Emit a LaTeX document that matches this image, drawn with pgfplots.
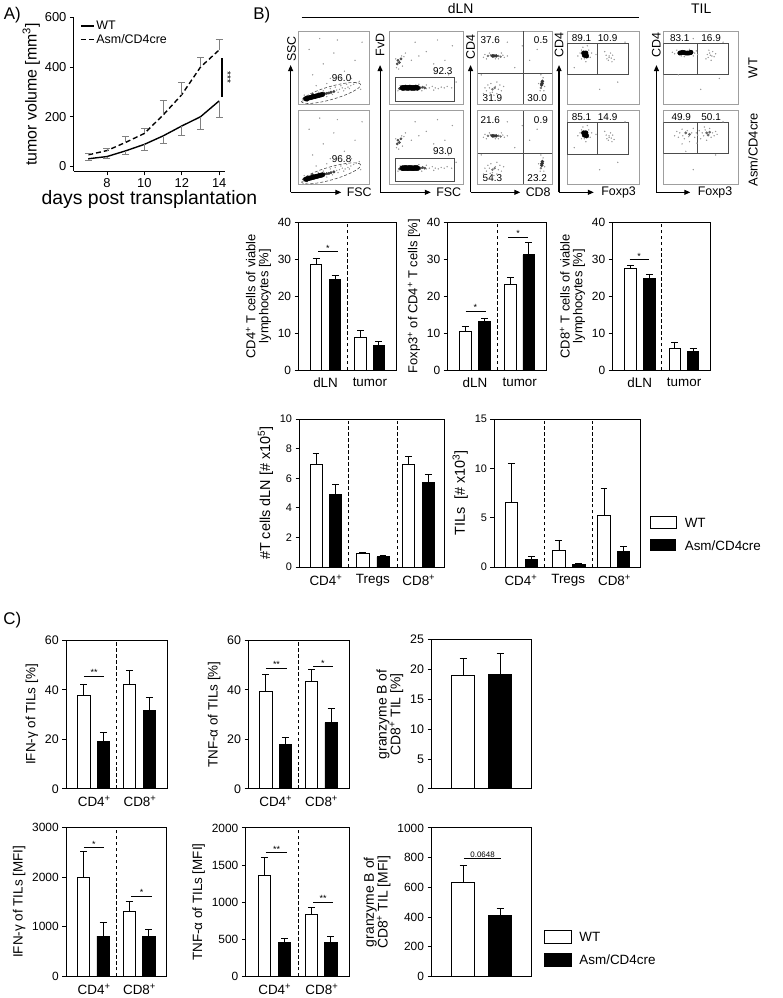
\documentclass[border=0pt]{standalone}
\usepackage{fontspec}
\setmainfont{Liberation Sans}
\usepackage{pgfplots}
\pgfplotsset{compat=1.18}
\usepackage{pgfplotstable}
\usetikzlibrary{arrows.meta}

\newcommand{\fs}[1]{\fontsize{#1}{#1}\selectfont}
\newcommand{\pl}{\textsuperscript{+}}

\tikzset{gate/.style={gray!60!black, line width=0.6pt},
  arr/.style={line width=1.1pt, -{Triangle[length=6pt,width=5pt]}}}

\pgfplotsset{
  every axis/.append style={/pgf/number format/assume math mode=true,
    /pgf/number format/1000 sep={}, scaled ticks=false},
  bars/.style={scale only axis, anchor=south west, clip=false, ymin=0, xmin=0, xmax=4,
    axis line style={line width=0.9pt}, ytick pos=left, tick align=outside,
    major tick length=4pt, ytick style={line width=0.9pt, black}, xtick style={draw=none},
    tick label style={font=\fs{12}}, xticklabel style={font=\fs{13.5}},
    ylabel style={font=\fs{13}, align=center}, cycle list={{black, mark=none, solid}}},
  wt/.style={ybar, bar shift=0pt, fill=white, draw=black, line width=0.9pt,
    error bars/y dir=plus, error bars/y explicit, error bars/error mark=|,
    error bars/error bar style={line width=0.9pt, black, solid},
    error bars/error mark options={line width=0.9pt, mark size=3.5pt, black, solid}},
  ko/.style={wt, fill=black},
  div/.style={line width=0.9pt, dash pattern=on 3.5pt off 2.5pt},
  sig/.style={line width=0.9pt},
  flow/.style={scale only axis, anchor=south west, xmin=0, xmax=100, ymin=0, ymax=100,
    xtick=\empty, ytick=\empty, axis line style={gray!75, line width=0.7pt}, clip=true},
  core/.style={only marks, mark=*, black},
  dots/.style={only marks, mark=*, mark size=0.45pt, gray!80},
}

% flow cytometry clusters, positions in % of the plot box
\pgfplotstableread{
x y
10 7
12 7.5
14 8
16 8.5
18 9
20 9.5
22 10
24 10.5
26 11
28 11.5
30 12
32 12.5
34 13
}\fAcore
\pgfplotstableread{
x y
37 14
40 14.5
43 15
46 16
50 17
12 5
20 13
}\fAmid
\pgfplotstableread{
x y
54 19
58 20
62 22
66 21
70 23
74 25
78 27
56 16
64 18
72 21
45 21
52 23
60 25
35 18
28 16
40 10
8 12
6 4
82 29
68 27
48 13
86 31
20 40
35 55
50 70
65 45
80 60
90 85
15 75
45 35
75 35
88 20
55 88
30 90
40 28
25 25
60 35
}\fAdots
\pgfplotstableread{
x y
18 22
20 22
22 22.5
24 22
26 22
28 22.5
30 22
32 22
34 22
36 22.5
38 22
}\fBcore
\pgfplotstableread{
x y
42 22
45 23
48 22
14 21
12 60
14 57
16 62
11 55
}\fBmid
\pgfplotstableread{
x y
50 21
54 22
58 24
62 22
66 21
70 23
74 22
78 24
50 26
60 19
44 18
40 27
15 25
12 18
10 50
20 65
18 52
22 70
30 60
40 66
50 72
60 55
75 60
85 80
35 85
65 88
80 40
90 30
9 62
17 66
13 48
84 22
}\fBdots
\pgfplotstableread{
x y
20 66
22 66
25 66
86 26
86.5 28.5
87 31
}\fCcore
\pgfplotstableread{
x y
14 66
18 67
22 66
28 66
31 65
20 20
23 22
85 22
}\fCmid
\pgfplotstableread{
x y
8 64
10 68
34 67
36 64
32 70
12 62
28 62
40 66
16 70
24 62
12 18
16 22
20 16
24 24
28 20
18 28
22 12
26 14
30 26
14 26
10 22
32 18
17 15
26 30
8 14
35 24
84 18
88 36
82 28
90 24
85 40
89 18
50 50
60 80
70 60
40 85
80 75
5 40
}\fCdots
\pgfplotstableread{
x y
23 70
27 66
26 70
24 67
}\fDcore
\pgfplotstableread{
x y
20 62
30 74
18 70
32 64
26 58
22 78
28 80
15 66
34 70
20 74
24 62
58 64
55 62
58 66
61 63
57 60
63 67
60 70
54 67
65 61
52 72
62 58
40 68
10 50
70 30
45 20
80 85
}\fDdots
\pgfplotstableread{
x y
22 70
24 70.5
26 71
28 70.5
30 70
32 70
34 70
36 70.5
37 71
}\fEcore
\pgfplotstableread{
x y
15 69
42 70
46 68
18 74
40 66
35 75
28 65
12 71
44 73
24 66
60 64
62 70
65 66
66 72
59 68
64 60
68 65
61 74
57 62
70 69
63 67
20 40
50 20
80 85
40 90
75 35
}\fEdots
\pgfplotstableread{
x y
58 70
62 71
60 67
30 70
35 68
}\fFmid
\pgfplotstableread{
x y
15 66
18 72
20 64
22 70
25 75
26 66
28 62
32 73
34 65
38 70
40 76
42 64
44 70
46 67
48 73
50 62
52 70
54 66
56 74
64 64
66 70
68 66
70 72
72 68
58 60
35 58
45 56
25 55
55 78
62 76
30 45
40 20
70 40
80 85
}\fFdots

\begin{document}
\begin{tikzpicture}
\path (0pt,0pt) rectangle (784pt,998pt);

% ---------- A ----------
\node[font=\fs{17}] at (9pt,983pt) {A)};
\begin{axis}[at={(71pt,826pt)}, anchor=south west, scale only axis, width=152pt, height=155pt,
  xmin=6.23, xmax=14.31, ymin=-20, ymax=600, axis lines*=left,
  axis line style={line width=0.9pt},
  xtick={8,10,12,14}, ytick={0,200,400,600}, tick align=outside, major tick length=4pt,
  tick style={line width=0.9pt, black}, tick label style={font=\fs{13}},
  xlabel={days post transplantation}, xlabel style={font=\fs{19.5}, yshift=4pt},
  ylabel={tumor volume [mm\textsuperscript{3}]}, ylabel style={font=\fs{16}, yshift=-2pt},
  legend style={at={(0.04,0.99)}, anchor=north west, draw=none, fill=none,
    font=\fs{12.5}, inner sep=0pt, row sep=-1pt},
  legend image code/.code={\draw[#1] (0pt,0pt) -- (13pt,0pt);},
  legend cell align=left, clip=false]
\addplot[black, line width=1.4pt, mark=none,
  error bars/y dir=minus, error bars/y explicit, error bars/error mark=|,
  error bars/error bar style={gray, line width=0.9pt, solid},
  error bars/error mark options={gray, line width=0.9pt, mark size=3.5pt, solid}]
  coordinates {(7,31) +- (0,7) (8,40) +- (0,7) (9,63) +- (0,16) (10,89) +- (0,25)
    (11,123) +- (0,32) (12,163) +- (0,40) (13,200) +- (0,51) (14,264) +- (0,68)};
\addplot[black, line width=1.4pt, mark=none, dash pattern=on 5pt off 3pt,
  error bars/y dir=plus, error bars/y explicit, error bars/error mark=|,
  error bars/error bar style={gray, line width=0.9pt, solid},
  error bars/error mark options={gray, line width=0.9pt, mark size=3.5pt, solid}]
  coordinates {(7,47) +- (0,6) (8,64) +- (0,9) (9,97) +- (0,23) (10,133) +- (0,20)
    (11,207) +- (0,57) (12,289) +- (0,48) (13,400) +- (0,40) (14,469) +- (0,44)};
\legend{WT, Asm/CD4cre}
\addplot[black, line width=1.1pt, mark=none, forget plot] coordinates {(14.15,280) (14.15,436)};
\node[font=\fs{10}, rotate=-90] at (axis cs:14.45,358) {***};
\end{axis}

% ---------- B : flow plots ----------
\node[font=\fs{17}] at (260pt,983pt) {B)};
\draw[line width=1pt] (300pt,981pt) -- (639pt,981pt);
\node[font=\fs{14}] at (460pt,990pt) {dLN};
\node[font=\fs{14}] at (702pt,990pt) {TIL};
\node[font=\fs{13}, rotate=90] at (754pt,930pt) {WT};
\node[font=\fs{13}, rotate=90] at (754pt,848pt) {Asm/CD4cre};

\draw[arr] (289pt,805pt) -- (289pt,933pt);
\draw[arr] (289pt,805pt) -- (340pt,805pt);
\node[font=\fs{12.5}, rotate=90] at (290pt,949pt) {SSC};
\node[font=\fs{12.5}, anchor=west] at (342pt,805pt) {FSC};
\draw[arr] (379pt,805pt) -- (379pt,933pt);
\draw[arr] (379pt,805pt) -- (430pt,805pt);
\node[font=\fs{12.5}, rotate=90] at (379pt,953pt) {FvD};
\node[font=\fs{12.5}, anchor=west] at (432pt,805pt) {FSC};
\draw[arr] (470pt,805pt) -- (470pt,933pt);
\draw[arr] (470pt,805pt) -- (520pt,805pt);
\node[font=\fs{12.5}, rotate=90] at (470pt,951pt) {CD4};
\node[font=\fs{12.5}, anchor=west] at (522pt,805pt) {CD8};
\draw[arr] (559pt,805pt) -- (559pt,933pt);
\draw[arr] (559pt,805pt) -- (594pt,805pt);
\node[font=\fs{12.5}, rotate=90] at (559pt,953pt) {CD4};
\node[font=\fs{12.5}, anchor=west] at (598pt,805pt) {Foxp3};
\draw[arr] (657pt,805pt) -- (657pt,933pt);
\draw[arr] (657pt,805pt) -- (691pt,805pt);
\node[font=\fs{12.5}, rotate=90] at (657pt,953pt) {CD4};
\node[font=\fs{12.5}, anchor=west] at (695pt,805pt) {Foxp3};

% column 1: SSC / FSC
\foreach \yy/\hh/\lab in {894/73/96.0, 813/74/96.8}{
\begin{axis}[flow, at={(297pt,\yy pt)}, width=71pt, height=\hh pt]
\addplot[dots] table {\fAdots};
\addplot[core, mark size=1.3pt, black!75] table {\fAmid};
\addplot[core, mark size=2.3pt] table {\fAcore};
\draw[gate, densely dashed, rotate around={16:(axis cs:46,15)}] (axis cs:46,15) ellipse [x radius=31pt, y radius=6.5pt];
\node[font=\fs{10}] at (axis cs:61,35) {\lab};
\end{axis}
}
% column 2: FvD / FSC
\foreach \yy/\hh/\lab in {894/73/92.3, 813/74/93.0}{
\begin{axis}[flow, at={(388pt,\yy pt)}, width=75pt, height=\hh pt]
\addplot[dots] table {\fBdots};
\addplot[core, mark size=1.2pt, black!70] table {\fBmid};
\addplot[core, mark size=2.6pt] table {\fBcore};
\draw[gate] (axis cs:9,4) rectangle (axis cs:87,36);
\node[font=\fs{10}] at (axis cs:72,45) {\lab};
\end{axis}
}
% column 3: CD4 / CD8
\foreach \yy/\hh/\a/\b/\c/\d in {894/73/37.6/0.5/31.9/30.0, 813/74/21.6/0.9/54.3/23.2}{
\begin{axis}[flow, at={(477pt,\yy pt)}, width=75pt, height=\hh pt]
\addplot[dots] table {\fCdots};
\addplot[core, mark size=1.0pt, black!55] table {\fCmid};
\addplot[core, mark size=1.6pt, black!80] table {\fCcore};
\draw[gate] (axis cs:61,0) -- (axis cs:61,100);
\draw[gate] (axis cs:0,42) -- (axis cs:100,42);
\node[font=\fs{10}] at (axis cs:17,88) {\a};
\node[font=\fs{10}] at (axis cs:85,88) {\b};
\node[font=\fs{10}] at (axis cs:20,8) {\c};
\node[font=\fs{10}] at (axis cs:80,8) {\d};
\end{axis}
}
% column 4: CD4 / Foxp3 dLN
\foreach \yy/\hh/\a/\b in {894/73/89.1/10.9, 813/74/85.1/14.9}{
\begin{axis}[flow, at={(567pt,\yy pt)}, width=73pt, height=\hh pt]
\addplot[dots] table {\fDdots};
\addplot[core, mark size=2.3pt] table {\fDcore};
\draw[gate] (axis cs:0,41) rectangle (axis cs:85,84);
\draw[gate] (axis cs:42,41) -- (axis cs:42,84);
\node[font=\fs{10}] at (axis cs:20,91) {\a};
\node[font=\fs{10}] at (axis cs:56,91) {\b};
\end{axis}
}
% column 5: CD4 / Foxp3 TIL
\begin{axis}[flow, at={(664pt,894pt)}, width=75pt, height=73pt]
\addplot[dots] table {\fEdots};
\addplot[core, mark size=2.2pt] table {\fEcore};
\draw[gate] (axis cs:0,41) rectangle (axis cs:87,84);
\draw[gate] (axis cs:45,41) -- (axis cs:45,84);
\node[font=\fs{10}] at (axis cs:22,91) {83.1};
\node[font=\fs{10}] at (axis cs:64,91) {16.9};
\end{axis}
\begin{axis}[flow, at={(664pt,813pt)}, width=75pt, height=74pt]
\addplot[dots] table {\fFdots};
\addplot[core, mark size=1.2pt, black!60] table {\fFmid};
\draw[gate] (axis cs:0,42) rectangle (axis cs:87,85);
\draw[gate] (axis cs:45,42) -- (axis cs:45,85);
\node[font=\fs{10}] at (axis cs:24,91) {49.9};
\node[font=\fs{10}] at (axis cs:64,91) {50.1};
\end{axis}

% ---------- B : bar charts row 1 ----------
\begin{axis}[bars, at={(297pt,626pt)}, width=98pt, height=149pt, ymax=40, ytick={0,10,...,40},
  xtick={1.11,2.93}, xticklabels={dLN,tumor},
  ylabel={CD4\pl{} T cells of viable\\lymphocytes [\%]}]
\addplot[wt, bar width=0.48] coordinates {(0.72,28.6) +- (0,1.5) (2.55,8.9) +- (0,1.9)};
\addplot[ko, bar width=0.48] coordinates {(1.5,24.6) +- (0,1.1) (3.3,6.7) +- (0,1.1)};
\addplot[div] coordinates {(2.02,0) (2.02,40)};
\addplot[sig] coordinates {(0.8,32) (1.6,32)};
\node[font=\fs{9}, anchor=south, inner sep=0.5pt] at (axis cs:1.2,32) {*};
\end{axis}

\begin{axis}[bars, at={(447pt,626pt)}, width=99pt, height=149pt, ymax=40, ytick={0,10,...,40},
  xtick={1.11,2.93}, xticklabels={dLN,tumor},
  ylabel={Foxp3\pl{} of CD4\pl{} T cells [\%]}]
\addplot[wt, bar width=0.48] coordinates {(0.72,10.5) +- (0,1.3) (2.55,23.2) +- (0,1.8)};
\addplot[ko, bar width=0.48] coordinates {(1.5,13.2) +- (0,0.7) (3.3,31.2) +- (0,3.4)};
\addplot[div] coordinates {(2.02,0) (2.02,40)};
\addplot[sig] coordinates {(0.73,15.9) (1.54,15.9)};
\node[font=\fs{9}, anchor=south, inner sep=0.5pt] at (axis cs:1.13,15.9) {*};
\addplot[sig] coordinates {(2.46,36) (3.27,36)};
\node[font=\fs{9}, anchor=south, inner sep=0.5pt] at (axis cs:2.86,36) {*};
\end{axis}

\begin{axis}[bars, at={(613pt,626pt)}, width=98pt, height=149pt, ymax=40, ytick={0,10,...,40},
  xtick={1.11,2.93}, xticklabels={dLN,tumor},
  ylabel={CD8\pl{} T cells of viable\\lymphocytes [\%]}]
\addplot[wt, bar width=0.48] coordinates {(0.72,27.5) +- (0,0.9) (2.55,6.0) +- (0,1.6)};
\addplot[ko, bar width=0.48] coordinates {(1.5,24.9) +- (0,1.0) (3.3,5.1) +- (0,0.9)};
\addplot[div] coordinates {(2.02,0) (2.02,40)};
\addplot[sig] coordinates {(0.69,29.8) (1.47,29.8)};
\node[font=\fs{9}, anchor=south, inner sep=0.5pt] at (axis cs:1.08,29.8) {*};
\end{axis}

% ---------- B : bar charts row 2 ----------
\begin{axis}[bars, at={(298pt,428pt)}, width=146pt, height=149pt, xmax=6, ymax=10,
  ytick={0,2,...,10}, tick label style={font=\fs{11}},
  xtick={1.09,3.03,4.93}, xticklabels={CD4\pl, Tregs, CD8\pl},
  ylabel style={font=\fs{14.5}}, ylabel={\#T cells dLN [\# x10\textsuperscript{5}]}]
\addplot[wt, bar width=0.5] coordinates {(0.68,6.9) +- (0,0.8) (2.62,0.9) +- (0,0.12) (4.52,6.9) +- (0,0.55)};
\addplot[ko, bar width=0.5] coordinates {(1.5,4.9) +- (0,0.7) (3.45,0.7) +- (0,0.1) (5.32,5.7) +- (0,0.55)};
\addplot[div] coordinates {(2.02,0) (2.02,10)};
\addplot[div] coordinates {(4.03,0) (4.03,10)};
\end{axis}

\begin{axis}[bars, at={(494pt,428pt)}, width=147pt, height=149pt, xmax=6, ymax=15,
  ytick={0,5,10,15}, tick label style={font=\fs{11}},
  xtick={1.09,3.03,4.93}, xticklabels={CD4\pl, Tregs, CD8\pl},
  ylabel style={font=\fs{14.5}}, ylabel={TILs~~[\# x10\textsuperscript{3}]}]
\addplot[wt, bar width=0.5] coordinates {(0.7,6.6) +- (0,3.9) (2.65,1.67) +- (0,1.05) (4.5,5.25) +- (0,2.7)};
\addplot[ko, bar width=0.5] coordinates {(1.52,0.74) +- (0,0.3) (3.47,0.23) +- (0,0.17) (5.3,1.57) +- (0,0.5)};
\addplot[div] coordinates {(2.07,0) (2.07,15)};
\addplot[div] coordinates {(4.04,0) (4.04,15)};
\end{axis}

\draw[line width=0.9pt] (651pt,467pt) rectangle (677pt,479pt);
\fill[black] (651pt,444pt) rectangle (677pt,456pt);
\node[font=\fs{13.5}, anchor=west] at (682pt,473pt) {WT};
\node[font=\fs{13.5}, anchor=west] at (682pt,450pt) {Asm/CD4cre};

% ---------- C ----------
\node[font=\fs{17}] at (9pt,375pt) {C)};

\begin{axis}[bars, at={(63.3pt,205pt)}, width=101.7pt, height=149.5pt, ymax=60,
  ytick={0,20,40,60}, tick label style={font=\fs{12.5}},
  xtick={1.11,2.92}, xticklabels={CD4\pl, CD8\pl},
  ylabel style={font=\fs{13.5}}, ylabel={IFN-γ of TILs [\%]}]
\addplot[wt, bar width=0.49] coordinates {(0.7,37.7) +- (0,4.6) (2.51,42) +- (0,5.6)};
\addplot[ko, bar width=0.49] coordinates {(1.47,19.3) +- (0,3.4) (3.29,31.7) +- (0,5.2)};
\addplot[div] coordinates {(2.0,0) (2.0,60)};
\addplot[sig] coordinates {(0.7,45.3) (1.5,45.3)};
\node[font=\fs{9}, anchor=south, inner sep=0.5pt] at (axis cs:1.1,45.3) {**};
\end{axis}

\begin{axis}[bars, at={(246.7pt,205pt)}, width=101.3pt, height=149.5pt, ymax=60,
  ytick={0,20,40,60}, tick label style={font=\fs{12.5}},
  xtick={1.08,2.9}, xticklabels={CD4\pl, CD8\pl},
  ylabel style={font=\fs{13.5}}, ylabel={TNF-α of TILs [\%]}]
\addplot[wt, bar width=0.49] coordinates {(0.69,39.3) +- (0,6.7) (2.51,43.3) +- (0,4.7)};
\addplot[ko, bar width=0.49] coordinates {(1.46,18) +- (0,2.7) (3.28,26.7) +- (0,5.7)};
\addplot[div] coordinates {(2.0,0) (2.0,60)};
\addplot[sig] coordinates {(0.69,48.7) (1.53,48.7)};
\node[font=\fs{9}, anchor=south, inner sep=0.5pt] at (axis cs:1.11,48.7) {**};
\addplot[sig] coordinates {(2.56,49.3) (3.35,49.3)};
\node[font=\fs{9}, anchor=south, inner sep=0.5pt] at (axis cs:2.95,49.3) {*};
\end{axis}

\begin{axis}[bars, at={(430.7pt,205pt)}, width=100.3pt, height=150pt, ymax=25,
  ytick={0,5,...,25}, tick label style={font=\fs{12.5}}, xtick=\empty,
  ylabel style={font=\fs{14}}, ylabel={granzyme B of\\CD8\pl{} TIL [\%]}]
\addplot[wt, bar width=0.94] coordinates {(1.27,19.0) +- (0,2.8)};
\addplot[ko, bar width=0.94] coordinates {(2.75,19.2) +- (0,3.5)};
\end{axis}

\begin{axis}[bars, at={(63.3pt,16.3pt)}, width=101pt, height=150pt, ymax=3000,
  ytick={0,1000,2000,3000}, tick label style={font=\fs{12}},
  xtick={1.11,2.92}, xticklabels={CD4\pl, CD8\pl},
  ylabel style={font=\fs{13.5}}, ylabel={IFN-γ of TILs [MFI]}]
\addplot[wt, bar width=0.49] coordinates {(0.7,2000) +- (0,513) (2.51,1300) +- (0,213)};
\addplot[ko, bar width=0.49] coordinates {(1.47,813) +- (0,267) (3.29,800) +- (0,147)};
\addplot[div] coordinates {(2.0,0) (2.0,3000)};
\addplot[sig] coordinates {(0.7,2587) (1.5,2587)};
\node[font=\fs{9}, anchor=south, inner sep=0.5pt] at (axis cs:1.1,2587) {*};
\addplot[sig] coordinates {(2.6,1607) (3.43,1607)};
\node[font=\fs{9}, anchor=south, inner sep=0.5pt] at (axis cs:3.0,1607) {*};
\end{axis}

\begin{axis}[bars, at={(244pt,16.3pt)}, width=103.7pt, height=149.4pt, ymax=2000,
  ytick={0,500,...,2000}, tick label style={font=\fs{12}},
  xtick={1.12,2.95}, xticklabels={CD4\pl, CD8\pl},
  ylabel style={font=\fs{13.5}}, ylabel={TNF-α of TILs [MFI]}]
\addplot[wt, bar width=0.48] coordinates {(0.72,1356) +- (0,246) (2.55,837) +- (0,98)};
\addplot[ko, bar width=0.48] coordinates {(1.5,456) +- (0,59) (3.3,456) +- (0,81)};
\addplot[div] coordinates {(2.04,0) (2.04,2000)};
\addplot[sig] coordinates {(0.78,1664) (1.6,1664)};
\node[font=\fs{9}, anchor=south, inner sep=0.5pt] at (axis cs:1.19,1664) {**};
\addplot[sig] coordinates {(2.61,998) (3.4,998)};
\node[font=\fs{9}, anchor=south, inner sep=0.5pt] at (axis cs:3.0,998) {**};
\end{axis}

\begin{axis}[bars, at={(430.7pt,16.3pt)}, width=100.3pt, height=149.4pt, ymax=1000,
  ytick={0,200,...,1000}, tick label style={font=\fs{12}}, xtick=\empty,
  ylabel style={font=\fs{14}}, ylabel={granzyme B of\\CD8\pl{} TIL [MFI]}]
\addplot[wt, bar width=0.94] coordinates {(1.27,632) +- (0,117)};
\addplot[ko, bar width=0.94] coordinates {(2.75,413) +- (0,45)};
\addplot[sig] coordinates {(1.3,793) (2.8,793)};
\node[font=\fs{8}, anchor=south, inner sep=1pt] at (axis cs:2.05,793) {0.0648};
\end{axis}

\draw[line width=0.9pt] (544.3pt,49.7pt) rectangle (571.7pt,63pt);
\fill[black] (544.3pt,26.3pt) rectangle (571.7pt,39.7pt);
\node[font=\fs{13.5}, anchor=west] at (576pt,56.3pt) {WT};
\node[font=\fs{13.5}, anchor=west] at (576pt,33pt) {Asm/CD4cre};

\end{tikzpicture}
\end{document}
